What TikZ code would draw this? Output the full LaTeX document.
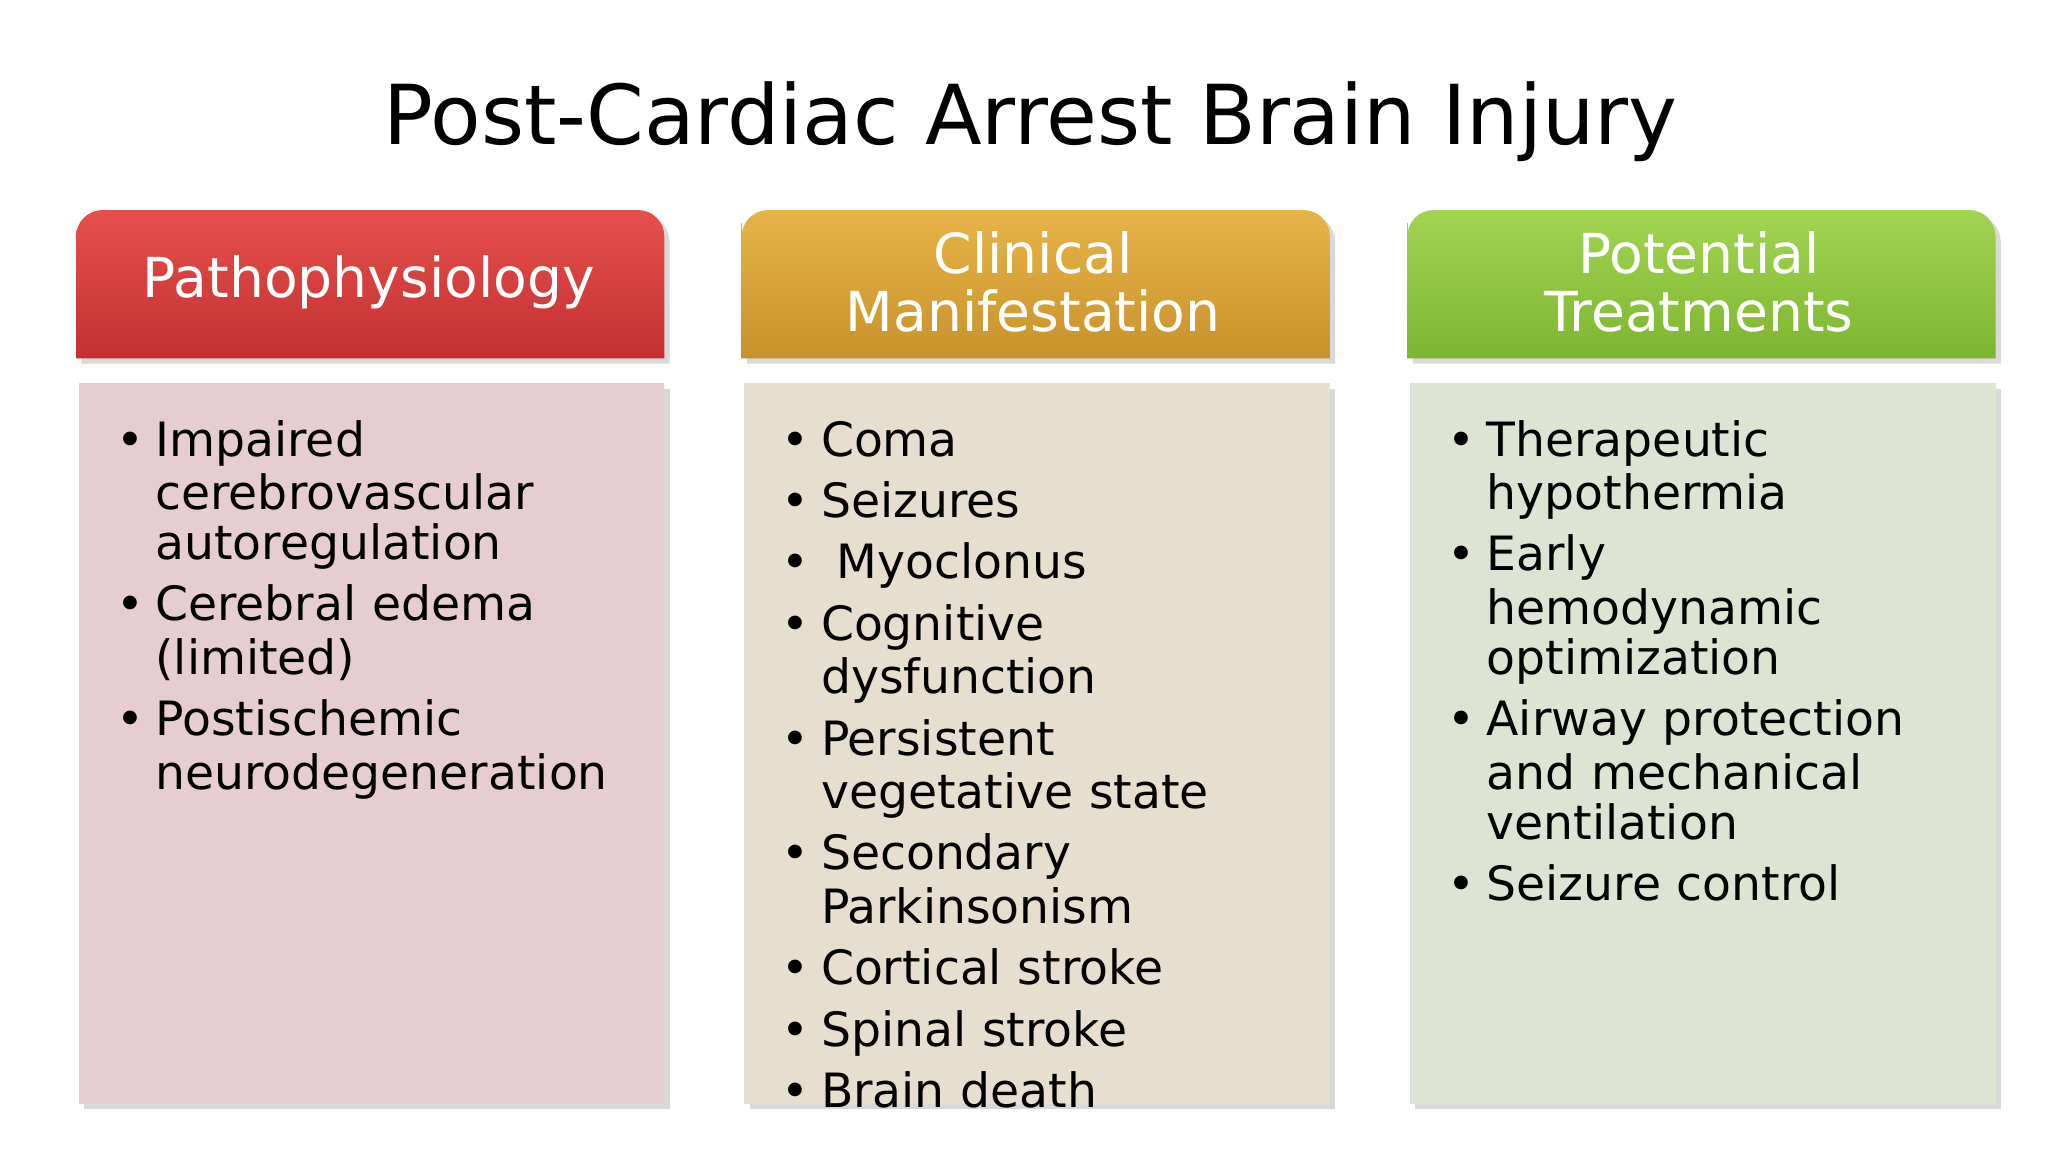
\documentclass[tikz,border=0pt]{standalone}
\usepackage{fontspec}
\setmainfont{DejaVu Sans}
\usetikzlibrary{shadows}
\definecolor{hr1}{HTML}{E5504E}\definecolor{hr2}{HTML}{C3302F}
\definecolor{hg1}{HTML}{E6B449}\definecolor{hg2}{HTML}{C8922B}
\definecolor{hn1}{HTML}{A2D452}\definecolor{hn2}{HTML}{7DB530}
\definecolor{br}{HTML}{E6CDD1}\definecolor{bg}{HTML}{E6DECF}\definecolor{bn}{HTML}{DEE4D3}
\newcommand\itm[1]{\par\noindent\makebox[17pt][l]{\hspace{2pt}\textbullet}\parbox[t]{190pt}{\strut#1\strut}\par}
\tikzset{
 head/.style={draw=none,drop shadow={opacity=0.3,shadow xshift=2pt,shadow yshift=-2pt}},
 htext/.style={text=white,font=\fontsize{21}{22}\selectfont,align=center},
 body/.style={drop shadow={opacity=0.3,shadow xshift=2pt,shadow yshift=-2pt}},
 btext/.style={anchor=north west,inner sep=0pt,text width=210pt,font=\fontsize{18}{19}\selectfont,align=left}
}
\begin{document}
\begin{tikzpicture}[x=0.5pt,y=-0.5pt]
\useasboundingbox[fill=white] (0,0) rectangle (1560,877.5);
\node (title) at (785,93) {\fontsize{31.5}{34}\selectfont Post-Cardiac Arrest Brain Injury};
\foreach \x/\ca/\cb in {58/hr1/hr2,565/hg1/hg2,1072/hn1/hn2}{
 \path[head,top color=\ca,bottom color=\cb] (\x,273) -- (\x,170) [rounded corners=10pt] -- (\x,160) -- (\x+448,160) [sharp corners] -- (\x+448,273) -- cycle;
}
\node[htext] (t1) at (281,215) {Pathophysiology};
\node[htext] (t2) at (787,215) {Clinical\\Manifestation};
\node[htext] (t3) at (1294,215) {Potential\\Treatments};
\fill[body,br] (60,292) rectangle (506,841);
\fill[body,bg] (567,292) rectangle (1013,841);
\fill[body,bn] (1074,292) rectangle (1520,841);
\node[btext] (l1) at (84,303) {\parskip=3pt
\itm{Impaired\\cerebrovascular\\autoregulation}
\itm{Cerebral edema\\(limited)}
\itm{Postischemic\\neurodegeneration}};
\node[btext] (l2) at (591,303) {\parskip=3pt
\itm{Coma}
\itm{Seizures}
\itm{\ Myoclonus}
\itm{Cognitive\\dysfunction}
\itm{Persistent\\vegetative state}
\itm{Secondary\\Parkinsonism}
\itm{Cortical stroke}
\itm{Spinal stroke}
\itm{Brain death}};
\node[btext] (l3) at (1098,303) {\parskip=3pt
\itm{Therapeutic\\hypothermia}
\itm{Early\\hemodynamic\\optimization}
\itm{Airway protection\\and mechanical\\ventilation}
\itm{Seizure control}};
\end{tikzpicture}
\end{document}
